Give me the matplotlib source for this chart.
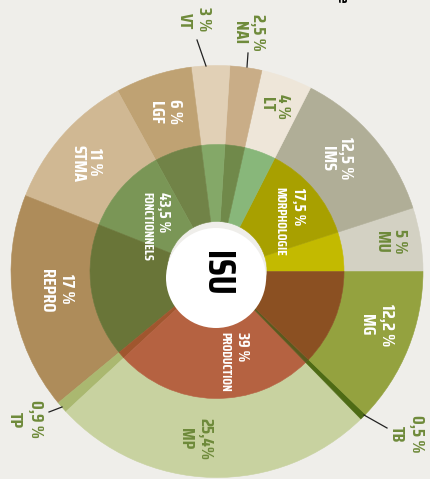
import matplotlib
matplotlib.use("Agg")
import matplotlib.pyplot as plt
from matplotlib.patches import Circle

# Sunburst data (outer ring, counter-clockwise from 3 o'clock)
outer_labels = ["MU", "IMS", "LT", "NAI", "VT", "LGF", "STMA", "REPRO", "TP", "MP", "TB", "MG"]
outer_values = [5, 12.5, 4, 2.5, 3, 6, 11, 17, 0.9, 25.4, 0.5, 12.2]
outer_pct = ["5 %", "12,5 %", "4 %", "2,5 %", "3 %", "6 %", "11 %", "17 %", "0,9 %", "25,4%", "0,5 %", "12,2 %"]
outer_colors = ["#D3D1C3", "#B0AE97", "#EEE6D9", "#C9AD87", "#E1D0B6", "#BFA273",
                "#D0B893", "#AE8C5A", "#AAB870", "#C8D2A0", "#4E6B15", "#94A23F"]
inner_colors = ["#C3BA00", "#A8A000", "#88B77A", "#70894A", "#84A868", "#718347",
                "#7A9656", "#697538", "#A0562E", "#B56241", "#5A5A1E", "#8B5022"]

# Inner ring group labels
group_labels = ["FONCTIONNELS", "MORPHOLOGIE", "PRODUCTION"]
group_pct = ["43,5 %", "17,5 %", "39 %"]

W, H = 430, 479
bg = "#EFEEEA"
green = "#6E8A3A"
font = ["Saira Condensed", "DejaVu Sans"]


def iy(y):
    # image y (top-down) -> data y
    return H - y


fig = plt.figure(figsize=(W / 100, H / 100), dpi=100, facecolor=bg)
ax = fig.add_axes([0, 0, 1, 1])
ax.set_facecolor(bg)

cx, cy = 217, iy(271.5)
w_out, _ = ax.pie(outer_values, radius=206, center=(cx, cy), startangle=0, counterclock=True,
                  colors=outer_colors, wedgeprops=dict(width=79, linewidth=0.4))
w_in, _ = ax.pie(outer_values, radius=127, center=(cx, cy), startangle=0, counterclock=True,
                 colors=inner_colors, wedgeprops=dict(width=77, linewidth=0.4))
for w in list(w_out) + list(w_in):
    w.set_edgecolor(w.get_facecolor())
ax.add_patch(Circle((216, iy(278)), 50, facecolor="white", edgecolor="none", zorder=5))

ax.set_xlim(0, W)
ax.set_ylim(0, H)
ax.set_aspect("equal")
ax.axis("off")

# label positions (image coords): pct line, name line
pos = {
    "MU": ((400, 241), (382, 242), green),
    "IMS": ((346, 158), (328, 158), "white"),
    "LT": ((283, 106), (267, 104), green),
    "NAI": ((258, 32), (240, 33), green),
    "VT": ((204, 19), (185, 21), green),
    "LGF": ((175, 111), (156, 112), "white"),
    "STMA": ((95, 162), (78, 163), "white"),
    "REPRO": ((67, 289), (47, 291), "white"),
    "TP": ((36, 419), (15, 420), green),
    "MP": ((205, 439), (186, 439), green),
    "TB": ((417, 434), (397, 434), green),
    "MG": ((387, 325), (367, 325), "white"),
}
for name, pct in zip(outer_labels, outer_pct):
    (px, py), (nx, ny), col = pos[name]
    ax.text(px, iy(py), pct, rotation=270, ha="center", va="center", color=col,
            fontsize=13, fontweight="bold", family=font, zorder=6)
    ax.text(nx, iy(ny), name, rotation=270, ha="center", va="center", color=col,
            fontsize=13, fontweight="bold", family=font, zorder=6)

# leader lines for small slices
leaders = [((197, 40), (206, 66)), ((248, 53), (247, 67)),
           ((49, 412), (62, 407)), ((364, 415), (387, 428))]
for (x0, y0), (x1, y1) in leaders:
    ax.plot([x0, x1], [iy(y0), iy(y1)], color="#222222", lw=0.9, zorder=6)

# inner group labels (top aligned)
group_pos = [((163, 192), (147, 192)), ((298, 188), (280, 187)), ((242, 332), (225, 332))]
for g, p, ((px, py), (nx, ny)) in zip(group_labels, group_pct, group_pos):
    ax.text(px, iy(py), p, rotation=270, ha="center", va="top", color="white",
            fontsize=11.5, fontweight="bold", family=font, zorder=6)
    ax.text(nx, iy(ny), g, rotation=270, ha="center", va="top", color="white",
            fontsize=9.5, fontweight="bold", family=font, zorder=6)

ax.text(216, iy(273), "ISU", rotation=270, ha="center", va="center", color="black",
        fontsize=27, fontweight="bold", family=font, zorder=7)
ax.text(342, iy(-1), "e", rotation=270, ha="center", va="center", color="black",
        fontsize=11, fontweight="bold", family=font, zorder=7)

fig.savefig("out.png", dpi=100, facecolor=bg)
